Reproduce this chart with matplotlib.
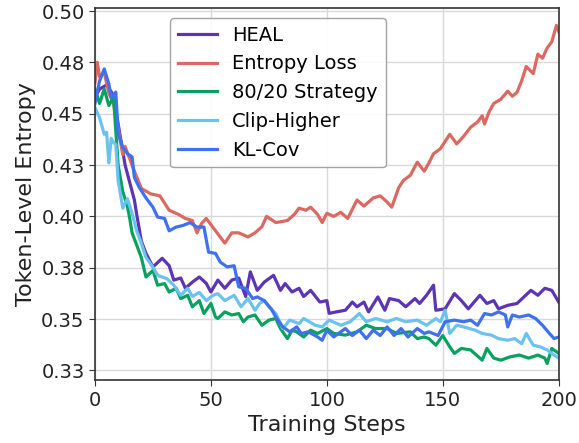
import numpy as np
import matplotlib
matplotlib.use("Agg")
import matplotlib.pyplot as plt

# values (step, entropy)
heal_steps = [0, 2, 5, 8, 10, 13, 17, 18, 20, 22, 25, 29, 32, 34, 37, 39, 42, 45, 48, 50,
              53, 56, 59, 62, 65, 67, 70, 73, 77, 80, 82, 85, 88, 90, 93, 97, 100, 101, 104, 108,
              111, 113, 116, 118, 122, 125, 127, 131, 134, 138, 140, 143, 146, 147, 151, 155, 158, 161, 166, 169,
              172, 174, 178, 182, 185, 188, 191, 194, 197, 200]
heal_vals = [0.458, 0.462, 0.464, 0.459, 0.445, 0.425, 0.408, 0.401, 0.388, 0.382, 0.3754, 0.3796, 0.376, 0.369, 0.370, 0.365, 0.368, 0.3705, 0.3674, 0.3632,
             0.369, 0.365, 0.369, 0.370, 0.361, 0.373, 0.364, 0.368, 0.3713, 0.364, 0.3673, 0.3632, 0.365, 0.361, 0.364, 0.3583, 0.359, 0.3528, 0.3535, 0.3543,
             0.3583, 0.356, 0.3583, 0.3535, 0.3608, 0.3543, 0.360, 0.359, 0.356, 0.360, 0.3576, 0.3616, 0.3665, 0.3543, 0.355, 0.3624, 0.359, 0.355, 0.3616, 0.3576,
             0.359, 0.355, 0.3567, 0.3576, 0.3608, 0.364, 0.3616, 0.365, 0.364, 0.3583]

ent_steps = [0, 1, 2, 4, 6, 8, 10, 12, 13, 15, 17, 20, 24, 28, 32, 36, 39, 42, 44, 46,
             48, 52, 56, 59, 62, 66, 69, 72, 74, 78, 83, 86, 88, 91, 93, 96, 98, 100, 103, 106,
             109, 113, 116, 120, 123, 126, 128, 131, 133, 136, 139, 142, 144, 146, 149, 153, 156, 159, 162, 165,
             167, 168, 170, 172, 175, 178, 180, 182, 184, 186, 189, 191, 193, 195, 197, 199, 200]
ent_vals = [0.465, 0.475, 0.468, 0.470, 0.460, 0.455, 0.443, 0.430, 0.434, 0.428, 0.422, 0.4136, 0.411, 0.410, 0.403, 0.401, 0.399, 0.398, 0.392, 0.3966,
            0.399, 0.393, 0.387, 0.392, 0.392, 0.390, 0.392, 0.395, 0.400, 0.397, 0.398, 0.401, 0.404, 0.403, 0.4045, 0.401, 0.397, 0.4015, 0.400, 0.402,
            0.399, 0.408, 0.405, 0.409, 0.410, 0.407, 0.4045, 0.414, 0.4175, 0.420, 0.4264, 0.422, 0.426, 0.4305, 0.433, 0.440, 0.4353, 0.439, 0.4434, 0.446,
            0.449, 0.445, 0.451, 0.455, 0.457, 0.461, 0.4585, 0.4604, 0.466, 0.473, 0.4695, 0.479, 0.477, 0.482, 0.485, 0.493, 0.490]

s8020_steps = [0, 2, 4, 6, 8, 10, 12, 14, 15, 16, 18, 20, 22, 25, 27, 30, 32, 35, 37, 40,
               42, 45, 47, 50, 52, 53, 56, 59, 62, 64, 66, 69, 72, 75, 78, 80, 83, 85, 87, 90,
               93, 96, 100, 103, 108, 113, 117, 121, 126, 130, 136, 139, 142, 144, 147, 150, 153, 155, 158, 162,
               167, 169, 172, 175, 179, 183, 187, 191, 194, 195, 197, 200]
s8020_vals = [0.462, 0.455, 0.462, 0.454, 0.458, 0.425, 0.412, 0.405, 0.399, 0.392, 0.386, 0.380, 0.3705, 0.3737, 0.3665, 0.3673, 0.3632, 0.365, 0.360, 0.3616,
              0.356, 0.359, 0.3527, 0.3576, 0.351, 0.3503, 0.3535, 0.352, 0.3527, 0.3487, 0.351, 0.352, 0.347, 0.3495, 0.3503, 0.3454, 0.3405, 0.3446, 0.3438, 0.3413,
              0.3446, 0.343, 0.3454, 0.343, 0.3422, 0.3438, 0.347, 0.3454, 0.3454, 0.343, 0.3438, 0.3405, 0.3413, 0.3405, 0.3373, 0.342, 0.3365, 0.3333, 0.3357, 0.335,
              0.330, 0.3357, 0.331, 0.330, 0.3316, 0.3325, 0.331, 0.3325, 0.331, 0.3284, 0.3357, 0.3333]

clip_steps = [0, 2, 4, 5, 6, 7, 8, 9, 10, 12, 14, 16, 18, 20, 22, 25, 27, 31, 34, 37,
              40, 42, 45, 48, 50, 51, 53, 56, 60, 63, 66, 69, 71, 73, 75, 78, 81, 84, 88, 90,
              95, 98, 101, 106, 110, 114, 117, 121, 126, 130, 134, 139, 143, 147, 149, 151, 153, 156, 159, 164,
              167, 171, 174, 178, 181, 184, 186, 189, 192, 195, 197, 200]
clip_vals = [0.453, 0.448, 0.440, 0.441, 0.426, 0.438, 0.436, 0.435, 0.4175, 0.404, 0.4086, 0.4015, 0.393, 0.387, 0.380, 0.3753, 0.3713, 0.3697, 0.3665, 0.3616,
             0.365, 0.361, 0.363, 0.359, 0.3608, 0.3616, 0.3624, 0.359, 0.3616, 0.356, 0.360, 0.3543, 0.3576, 0.359, 0.356, 0.3527, 0.3454, 0.3495, 0.3478, 0.3503,
             0.347, 0.3462, 0.3495, 0.347, 0.3487, 0.3527, 0.3487, 0.3503, 0.3487, 0.3503, 0.3487, 0.3495, 0.347, 0.3503, 0.3487, 0.3543, 0.343, 0.347, 0.3462, 0.3446,
             0.343, 0.3422, 0.3405, 0.3397, 0.3405, 0.338, 0.343, 0.3373, 0.3365, 0.335, 0.3333, 0.331]

klcov_steps = [0, 2, 4, 6, 7, 9, 10, 12, 14, 16, 17, 19, 22, 25, 27, 30, 32, 35, 38, 41,
               44, 47, 49, 52, 54, 57, 60, 62, 65, 68, 70, 73, 76, 78, 81, 84, 87, 89, 92, 96,
               98, 100, 103, 106, 108, 111, 114, 117, 120, 123, 126, 129, 132, 135, 139, 142, 144, 148, 151, 155,
               159, 162, 165, 168, 171, 174, 177, 178, 180, 183, 187, 190, 193, 196, 198, 200]
klcov_vals = [0.455, 0.466, 0.4718, 0.4645, 0.458, 0.4605, 0.4403, 0.4337, 0.4305, 0.429, 0.419, 0.4143, 0.409, 0.4045, 0.3997, 0.399, 0.393, 0.3948, 0.3956, 0.397,
              0.3948, 0.3948, 0.3826, 0.382, 0.3778, 0.3754, 0.376, 0.3657, 0.365, 0.360, 0.3608, 0.359, 0.355, 0.351, 0.3462, 0.3438, 0.3462, 0.343, 0.3438, 0.3413,
              0.3397, 0.3446, 0.3413, 0.3438, 0.3454, 0.342, 0.3446, 0.3405, 0.3446, 0.342, 0.3462, 0.342, 0.3454, 0.3413, 0.3454, 0.343, 0.3438, 0.342, 0.3487, 0.3495,
              0.3487, 0.3495, 0.347, 0.3527, 0.352, 0.3535, 0.352, 0.3462, 0.352, 0.351, 0.352, 0.3503, 0.347, 0.343, 0.3405, 0.3413]

series = [
    ("HEAL", heal_steps, heal_vals, "#5c34b4"),
    ("Entropy Loss", ent_steps, ent_vals, "#dc6862"),
    ("80/20 Strategy", s8020_steps, s8020_vals, "#0aa160"),
    ("Clip-Higher", clip_steps, clip_vals, "#6cc2ef"),
    ("KL-Cov", klcov_steps, klcov_vals, "#3f70f0"),
]

y_ticks = [0.325, 0.35, 0.375, 0.40, 0.425, 0.45, 0.475, 0.50]
y_tick_labels = ["0.33", "0.35", "0.38", "0.40", "0.43", "0.45", "0.48", "0.50"]
x_ticks = [0, 50, 100, 150, 200]

fig = plt.figure(figsize=(5.79, 4.43), dpi=100)
ax = fig.add_axes([0.164, 0.142, 0.801, 0.841])

for name, st, vals, col in series:
    ax.plot(st, vals, color=col, lw=2.3, label=name)

ax.set_xlim(0, 200)
ax.set_ylim(0.3203, 0.5017)
ax.set_xticks(x_ticks)
ax.set_yticks(y_ticks)
ax.set_yticklabels(y_tick_labels)
ax.tick_params(labelsize=14, length=4, color="#333333", labelcolor="#222222")
ax.grid(True, color="#d9d9d9", lw=1.0)
ax.set_axisbelow(True)
for sp in ax.spines.values():
    sp.set_color("#333333")
    sp.set_linewidth(1.2)

ax.set_xlabel("Training Steps", fontsize=16, color="#222222")
ax.set_ylabel("Token-Level Entropy", fontsize=16, color="#222222")

ax.legend(loc="upper left", bbox_to_anchor=(0.162, 0.972), borderaxespad=0,
          fontsize=14, labelspacing=0.5, frameon=True, edgecolor="#999999",
          fancybox=True, framealpha=0.9)

fig.savefig("out.png", dpi=100)
